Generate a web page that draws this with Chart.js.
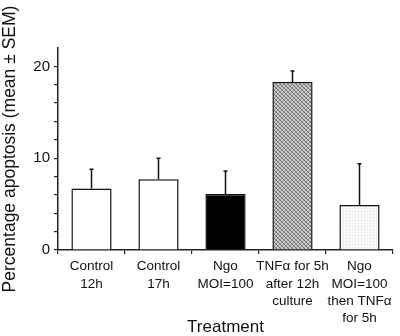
<!DOCTYPE html>
<html>
<head>
<meta charset="utf-8">
<script src="https://cdn.jsdelivr.net/npm/chart.js@4.4.0/dist/chart.umd.min.js"></script>
<style>
  html, body { margin: 0; padding: 0; background: #fff; }
  #wrap { width: 400px; height: 336px; }
</style>
</head>
<body>
<div id="wrap"><canvas id="myChart" width="400" height="336"></canvas></div>
<script>
// data
var categories = [
  ["Control", "12h"],
  ["Control", "17h"],
  ["Ngo", "MOI=100"],
  ["TNF\u03b1 for 5h", "after 12h", "culture"],
  ["Ngo", "MOI=100", "then TNF\u03b1", "for 5h"]
];
var meanValues = [6.7, 7.7, 6.1, 18.3, 4.9];
var semValues  = [2.1, 2.3, 2.5, 1.2, 4.5];
var yTickValues = [0, 2, 4, 6, 8, 10, 12, 14, 16, 18, 20];
var yTickLabels = [0, 10, 20];

var FONT = "'Liberation Sans', Arial, Helvetica, sans-serif";

var ctx = document.getElementById("myChart").getContext("2d");

// fill patterns for the two textured bars
function makeHatch() {
  var c = document.createElement("canvas");
  c.width = 4; c.height = 4;
  var g = c.getContext("2d");
  g.fillStyle = "#cdcdcd";
  g.fillRect(0, 0, 4, 4);
  for (var i = 0; i < 4; i++) {
    g.fillStyle = "#6a6a6a";
    g.fillRect(i, i, 1, 1);
    g.fillStyle = "#9a9a9a";
    g.fillRect(3 - i, i, 1, 1);
  }
  return ctx.createPattern(c, "repeat");
}

function makeDots() {
  var c = document.createElement("canvas");
  c.width = 3; c.height = 3;
  var g = c.getContext("2d");
  g.fillStyle = "#f8f8f8";
  g.fillRect(0, 0, 3, 3);
  g.fillStyle = "#dedede";
  g.fillRect(1, 1, 1, 1);
  return ctx.createPattern(c, "repeat");
}

var barFills = ["#ffffff", "#ffffff", "#000000", makeHatch(), makeDots()];

// upward-only error bars with a small cap
var errorBars = {
  id: "errorBars",
  afterDatasetsDraw: function(chart) {
    var meta = chart.getDatasetMeta(0);
    var yScale = chart.scales.y;
    var c = chart.ctx;
    c.save();
    c.strokeStyle = "#111";
    c.lineWidth = 1.5;
    for (var i = 0; i < meta.data.length; i++) {
      var bar = meta.data[i];
      var yTop = yScale.getPixelForValue(meanValues[i]);
      var yEnd = yScale.getPixelForValue(meanValues[i] + semValues[i]);
      c.beginPath();
      c.moveTo(bar.x, yTop);
      c.lineTo(bar.x, yEnd);
      c.moveTo(bar.x - 2, yEnd);
      c.lineTo(bar.x + 2, yEnd);
      c.stroke();
    }
    c.restore();
  }
};

var myChart = new Chart(ctx, {
  type: "bar",
  data: {
    labels: categories,
    datasets: [{
      data: meanValues,
      backgroundColor: barFills,
      borderColor: "#111",
      borderWidth: 1.5,
      barPercentage: 0.6,
      categoryPercentage: 1.0
    }]
  },
  plugins: [errorBars],
  options: {
    responsive: false,
    animation: false,
    devicePixelRatio: 1,
    layout: { padding: { top: 48, right: 7, left: 0, bottom: 0 } },
    plugins: {
      legend: { display: false },
      tooltip: { enabled: false }
    },
    scales: {
      x: {
        afterFit: function(scale) { scale.height = 86; },
        grid: { drawOnChartArea: false, offset: true, tickLength: 4, color: "#222", lineWidth: 1.2 },
        border: { display: true, color: "#222", width: 1.5 },
        ticks: {
          color: "#111",
          font: { family: FONT, size: 13.5, lineHeight: 1.28 },
          padding: 4,
          maxRotation: 0,
          autoSkip: false
        },
        title: {
          display: true,
          text: "Treatment",
          color: "#111",
          font: { family: FONT, size: 17, lineHeight: 1 },
          padding: 0
        }
      },
      y: {
        min: 0,
        max: 22,
        afterFit: function(scale) { scale.width = 58; },
        afterBuildTicks: function(scale) {
          scale.ticks = yTickValues.map(function(v) { return { value: v }; });
        },
        grid: { drawOnChartArea: false, tickLength: 4, color: "#222", lineWidth: 1.2 },
        border: { display: true, color: "#222", width: 1.5 },
        ticks: {
          color: "#111",
          font: { family: FONT, size: 15 },
          padding: 4,
          autoSkip: false,
          callback: function(value) {
            return yTickLabels.indexOf(value) >= 0 ? value : "";
          }
        },
        title: {
          display: true,
          text: "Percentage apoptosis (mean \u00b1 SEM)",
          color: "#111",
          font: { family: FONT, size: 17.5, lineHeight: 1.2 },
          padding: 0
        }
      }
    }
  }
});
</script>
</body>
</html>
